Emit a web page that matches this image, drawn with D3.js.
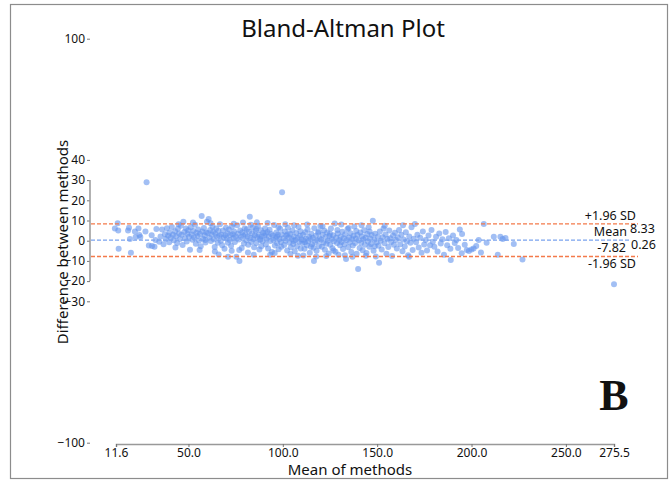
<!DOCTYPE html>
<html>
<head>
<meta charset="utf-8">
<script src="https://cdn.jsdelivr.net/npm/d3@7"></script>
<style>
  body { margin: 0; background: #fff; }
  text { font-family: "Noto Sans", "Open Sans", sans-serif; fill: #111; }
</style>
</head>
<body>
<div id="chart"></div>
<script>
// mean of methods, difference between methods
let points = [
  [11.0,6.1],[12.8,5.0],[12.5,8.7],[13.0,-4.0],[18.0,5.0],[19.0,0.8],[19.5,-6.0],[18.5,6.4],
  [21.6,4.5],[22.0,1.8],[23.5,6.0],[24.0,2.8],[24.5,1.8],[27.8,28.9],[27.2,4.6],[29.0,-2.4],[30.5,2.7],
  [30.7,-2.6],[32.0,-3.0],[32.5,0.3],[33.0,5.8],[34.5,-0.5],[35.2,2.1],[36.0,5.5],[36.8,-1.8],[37.5,3.2],[38.0,0.9],[38.6,6.2],[39.2,2.4],[39.8,-0.8],[40.0,4.1],
  [40.6,1.5],[41.2,6.8],[41.8,3.0],[42.3,0.2],[42.9,4.7],[43.5,2.2],[44.0,-1.2],[44.4,5.9],[45.0,3.6],[45.5,0.8],[46.0,7.4],[46.4,2.9],[46.9,-2.1],[47.3,9.4],[47.8,4.3],[48.2,1.2],[48.7,6.1],[49.1,-0.4],[49.5,3.4],[49.9,5.2],[44.8,8.1],[43.1,-3.4],
  [50.3,2.0],[50.8,-4.5],[51.2,6.6],[51.7,3.1],[52.1,0.5],[52.6,4.8],[53.0,1.7],[53.5,7.9],[53.9,-1.5],[54.3,3.9],[54.8,2.3],[55.2,5.6],[55.6,0.1],[56.1,3.3],[56.5,-2.8],[57.0,12.2],[57.3,4.5],[57.8,1.0],[58.2,6.3],[58.6,2.6],[59.0,-0.9],[59.4,4.0],[59.8,9.4],[55.9,-4.6],[52.4,9.0],[58.9,0.3],
  [60.3,3.8],[60.7,10.7],[61.1,1.4],[61.5,5.3],[61.9,-0.2],[62.3,2.9],[62.7,7.0],[63.1,4.4],[63.5,0.7],[63.9,-3.1],[64.3,3.5],[64.7,6.0],[65.1,1.9],[65.5,-1.0],[65.9,4.9],[66.3,2.4],[66.7,8.2],[67.1,0.0],[67.5,3.0],[67.9,-2.2],[68.3,5.1],[68.7,1.6],[69.1,-4.0],[69.5,2.7],[69.9,6.4],[64.0,-5.3],[66.0,-6.8],[61.7,8.6],
  [70.3,1.1],[70.7,3.7],[71.0,-7.9],[71.4,5.5],[71.8,0.4],[72.2,2.8],[72.6,-2.5],[73.0,6.9],[73.4,3.2],[73.8,1.3],[74.2,4.6],[74.6,-0.7],[75.0,2.1],[75.4,-8.0],[75.8,7.6],[76.2,3.4],[76.6,0.6],[77.0,-10.0],[77.4,5.0],[77.8,1.8],[78.2,-3.6],[78.6,4.2],[79.0,2.5],[79.4,-1.4],[79.8,6.0],[72.9,-5.0],[76.9,-4.6],[74.0,8.4],[78.9,9.0],[70.9,-1.0],
  [80.2,3.1],[80.6,0.2],[81.0,5.7],[81.3,2.0],[81.7,-2.0],[82.1,4.4],[82.5,11.8],[82.9,1.5],[83.3,-0.6],[83.7,3.6],[84.0,6.5],[84.4,0.9],[84.8,-3.3],[85.2,2.7],[85.6,4.9],[86.0,-1.1],[86.4,1.8],[86.8,7.3],[87.2,3.0],[87.6,-4.4],[88.0,0.4],[88.4,5.2],[88.8,2.2],[89.2,-0.3],[89.6,3.9],[81.5,-5.8],[84.6,-6.9],[86.2,9.1],[88.6,-2.8],[83.0,7.9],[85.9,5.8],[87.9,1.0],
  [90.2,2.4],[90.6,6.1],[91.0,-1.9],[91.4,0.7],[91.8,4.3],[92.2,-3.8],[92.6,1.9],[93.0,5.4],[93.4,-0.1],[93.8,3.3],[94.2,-5.6],[94.6,2.6],[95.0,0.3],[95.4,7.8],[95.8,-2.4],[96.2,1.4],[96.6,4.0],[97.0,-1.3],[97.4,2.9],[97.8,-4.2],[98.2,0.8],[98.6,5.9],[99.0,-0.7],[99.4,3.1],[99.6,24.0],[91.9,8.8],[93.3,-7.0],[95.7,-6.1],[97.7,6.6],[99.2,-3.0],[90.9,3.6],[96.9,2.0],
  [100.3,1.2],[100.7,-2.1],[101.1,4.5],[101.5,0.0],[101.9,2.6],[102.3,-4.8],[102.7,6.4],[103.1,1.6],[103.5,-0.9],[103.9,3.5],[104.3,-3.2],[104.7,0.9],[105.1,5.1],[105.5,-1.6],[105.9,2.1],[106.3,-5.2],[106.7,0.4],[107.1,3.8],[107.5,-2.7],[107.9,1.3],[108.3,6.8],[108.7,-0.5],[109.1,2.4],[109.5,-3.9],[109.9,0.6],[101.3,8.1],[104.0,-6.6],[106.0,7.7],[108.0,-7.4],[102.5,3.2],[105.8,-0.2],[109.3,4.7],
  [110.3,-1.2],[110.7,2.9],[111.1,0.2],[111.5,-4.0],[111.9,4.2],[112.3,1.0],[112.7,-2.3],[113.1,5.6],[113.5,-0.4],[113.9,2.0],[114.3,-6.0],[114.7,0.8],[115.1,3.4],[115.5,-1.8],[115.9,1.5],[116.3,-3.5],[116.5,-10.0],[116.7,6.2],[117.1,-0.6],[117.5,2.5],[117.9,-5.0],[118.3,0.1],[118.7,3.9],[119.1,-2.6],[119.5,1.1],[119.9,7.3],[110.9,-7.3],[112.9,8.0],[114.9,-3.0],[117.7,-7.8],[119.0,4.6],[111.7,-0.8],
  [120.3,0.5],[120.7,-3.0],[121.1,3.0],[121.5,-0.9],[121.9,5.0],[122.3,-4.5],[122.7,1.8],[123.1,-1.5],[123.5,4.1],[123.9,0.0],[124.3,-6.3],[124.7,2.3],[125.1,-2.0],[125.5,6.0],[125.9,0.9],[126.3,-3.7],[126.7,2.7],[127.1,-0.3],[127.5,8.5],[127.9,-5.5],[128.3,1.4],[128.7,-1.1],[129.1,3.6],[129.5,-7.0],[129.9,0.3],[121.0,7.2],[123.0,-7.6],[125.0,3.4],[126.9,-4.8],[128.9,5.3],
  [130.3,-2.2],[130.7,2.0],[131.1,-0.6],[131.5,4.4],[131.9,-4.1],[132.3,1.2],[132.7,-1.7],[133.1,3.2],[133.5,-9.0],[133.9,0.4],[134.3,5.8],[134.7,-3.3],[135.1,1.6],[135.5,-0.8],[135.9,3.7],[136.3,-5.6],[136.7,0.9],[137.1,-2.4],[137.5,2.4],[137.9,7.0],[138.3,-1.2],[138.7,1.0],[139.1,-6.5],[139.5,3.0],[139.9,-14.0],[131.0,8.0],[132.9,-7.2],[134.9,6.3],[136.9,-7.9],[138.9,4.8],
  [140.3,0.2],[140.7,-3.6],[141.1,4.0],[141.5,-1.0],[141.9,2.2],[142.3,-4.7],[142.7,0.7],[143.1,5.2],[143.5,-2.0],[143.9,1.5],[144.3,-6.1],[144.7,3.3],[145.1,-0.4],[145.5,6.6],[145.9,-3.0],[146.3,1.1],[146.7,-1.6],[147.1,2.8],[147.7,9.9],[148.1,-5.0],[148.5,0.5],[148.9,3.5],[149.3,-7.8],[149.7,-0.9],[141.7,7.6],[144.0,-7.5],[146.0,4.5],[148.7,-2.8],
  [150.3,2.0],[150.7,-2.5],[151.0,-10.9],[151.4,4.6],[151.9,0.0],[152.4,-4.3],[152.9,1.7],[153.4,6.1],[153.9,-1.3],[154.4,3.1],[154.9,-6.4],[155.4,0.8],[155.9,-3.1],[156.4,5.0],[156.9,1.2],[157.4,-0.6],[157.9,-7.6],[158.4,2.6],[158.9,-2.0],[159.4,3.9],[154.0,7.4],[159.9,0.4],
  [160.4,-3.8],[161.0,1.6],[161.6,5.3],[162.2,-1.7],[162.8,2.9],[163.4,-5.2],[164.0,0.6],[164.6,-2.9],[165.2,4.2],[165.8,-0.3],[166.4,-7.2],[167.0,2.1],[167.6,-1.0],[168.2,6.7],[168.8,-4.6],[169.4,1.0],[163.7,7.7],[166.9,-8.0],
  [170.0,8.3],[170.6,-0.8],[171.3,3.0],[172.0,-3.4],[172.8,1.4],[173.5,-6.0],[174.2,4.5],[174.9,-1.9],[175.7,0.3],[176.4,-4.8],[177.2,2.6],[178.0,-2.3],[178.8,5.3],[179.5,-0.5],
  [180.3,-3.0],[181.2,1.9],[182.0,-5.4],[182.9,3.6],[183.7,-1.4],[184.6,0.7],[185.4,-7.0],[186.3,4.3],[187.1,-2.2],[188.0,1.2],[188.8,-4.0],[189.0,-9.5],
  [190.2,2.6],[191.1,-1.1],[192.0,0.4],[192.9,-3.6],[193.8,5.5],[194.8,-6.2],[195.0,3.3],[196.4,-2.0],[197.5,-4.6],[198.6,-5.1],
  [200.0,-4.3],[201.1,-3.8],[202.5,-2.6],[203.8,0.3],[205.0,-5.9],[206.5,8.3],[208.0,-1.0],[211.8,2.0],[213.9,-7.0],[215.3,2.0],[216.5,0.8],[218.0,1.3],[222.4,-1.6],[227.0,-9.3],
  [275.5,-21.5]
];

let limits = [
  {name: "upper", value: 8.33},
  {name: "mean", value: 0.26},
  {name: "lower", value: -7.82}
];
let yTicks = [100, 40, 30, 20, 10, 0, -10, -20, -30, -100];
let xTicks = [11.6, 50, 100, 150, 200, 250, 275.5];

let width = 670;
let height = 482;

let x = d3.scaleLinear().domain([11.6, 275.5]).range([116, 614]);
let y = d3.scaleLinear().domain([-100, 100]).range([442.7, 38.7]);

const svg = d3.select("#chart").append("svg")
  .attr("width", width)
  .attr("height", height);

// outer frame
svg.append("rect")
  .attr("x", 10.5).attr("y", 4.5)
  .attr("width", 657).attr("height", 474)
  .attr("fill", "none")
  .attr("stroke", "#8c8c8c")
  .attr("stroke-width", 1.2);

svg.append("text")
  .attr("x", 343).attr("y", 37)
  .attr("text-anchor", "middle")
  .style("font-size", "24px")
  .text("Bland-Altman Plot");

// y axis: ticks everywhere, line only across the data band
const yAxis = d3.axisLeft(y).tickValues(yTicks).tickSize(3).tickPadding(2).tickFormat(d3.format("d"));
const gy = svg.append("g").attr("transform", "translate(90,0)").call(yAxis);
gy.select(".domain").remove();
gy.selectAll(".tick line").attr("stroke", "#777");
gy.selectAll(".tick text").style("font-size", "12px").attr("fill", "#111");
svg.append("line")
  .attr("x1", 90).attr("x2", 90)
  .attr("y1", y(30)).attr("y2", y(-20))
  .attr("stroke", "#999").attr("stroke-width", 1.5);

const xAxis = d3.axisBottom(x).tickValues(xTicks).tickSize(3).tickPadding(1)
  .tickFormat(d3.format(".1f"));
const gx = svg.append("g").attr("transform", "translate(0,444)").call(xAxis);
gx.select(".domain").attr("stroke", "#999").attr("stroke-width", 1.5);
gx.selectAll(".tick line").attr("stroke", "#777");
gx.selectAll(".tick text").style("font-size", "12px").attr("fill", "#111");

svg.append("text")
  .attr("transform", "translate(68,242) rotate(-90)")
  .attr("text-anchor", "middle")
  .style("font-size", "15px")
  .text("Difference between methods");

svg.append("text")
  .attr("x", 350).attr("y", 475)
  .attr("text-anchor", "middle")
  .style("font-size", "15px")
  .text("Mean of methods");

// points
svg.append("g")
  .selectAll("circle")
  .data(points)
  .join("circle")
  .attr("cx", d => x(d[0]))
  .attr("cy", d => y(d[1]))
  .attr("r", 3)
  .attr("fill", "#6495ed")
  .attr("fill-opacity", 0.6);

// limit lines
svg.append("g")
  .selectAll("line")
  .data(limits)
  .join("line")
  .attr("x1", 91)
  .attr("x2", d => d.name == "mean" ? 630 : 638)
  .attr("y1", d => y(d.value))
  .attr("y2", d => y(d.value))
  .attr("stroke", d => d.name == "mean" ? "#7aa3ee" : "#f47a4a")
  .attr("stroke-width", 1.3)
  .attr("stroke-dasharray", "4,2");

let labels = svg.append("g").style("font-size", "12.5px");
labels.append("text").attr("x", 636).attr("y", y(8.33) - 4).attr("text-anchor", "end").text("+1.96 SD");
labels.append("text").attr("x", 630).attr("y", y(8.33) + 9).text(limits[0].value.toFixed(2));
labels.append("text").attr("x", 627).attr("y", y(0.26) - 4).attr("text-anchor", "end").text("Mean");
labels.append("text").attr("x", 631).attr("y", y(0.26) + 9).text(limits[1].value.toFixed(2));
labels.append("text").attr("x", 626).attr("y", y(-7.82) - 4).attr("text-anchor", "end").text(limits[2].value.toFixed(2));
labels.append("text").attr("x", 636).attr("y", y(-7.82) + 12).attr("text-anchor", "end").text("-1.96 SD");

svg.append("text")
  .attr("x", 614).attr("y", 410)
  .attr("text-anchor", "middle")
  .style("font-family", "'Liberation Serif', serif")
  .style("font-weight", "bold")
  .style("font-size", "44px")
  .text("B");
</script>
</body>
</html>
